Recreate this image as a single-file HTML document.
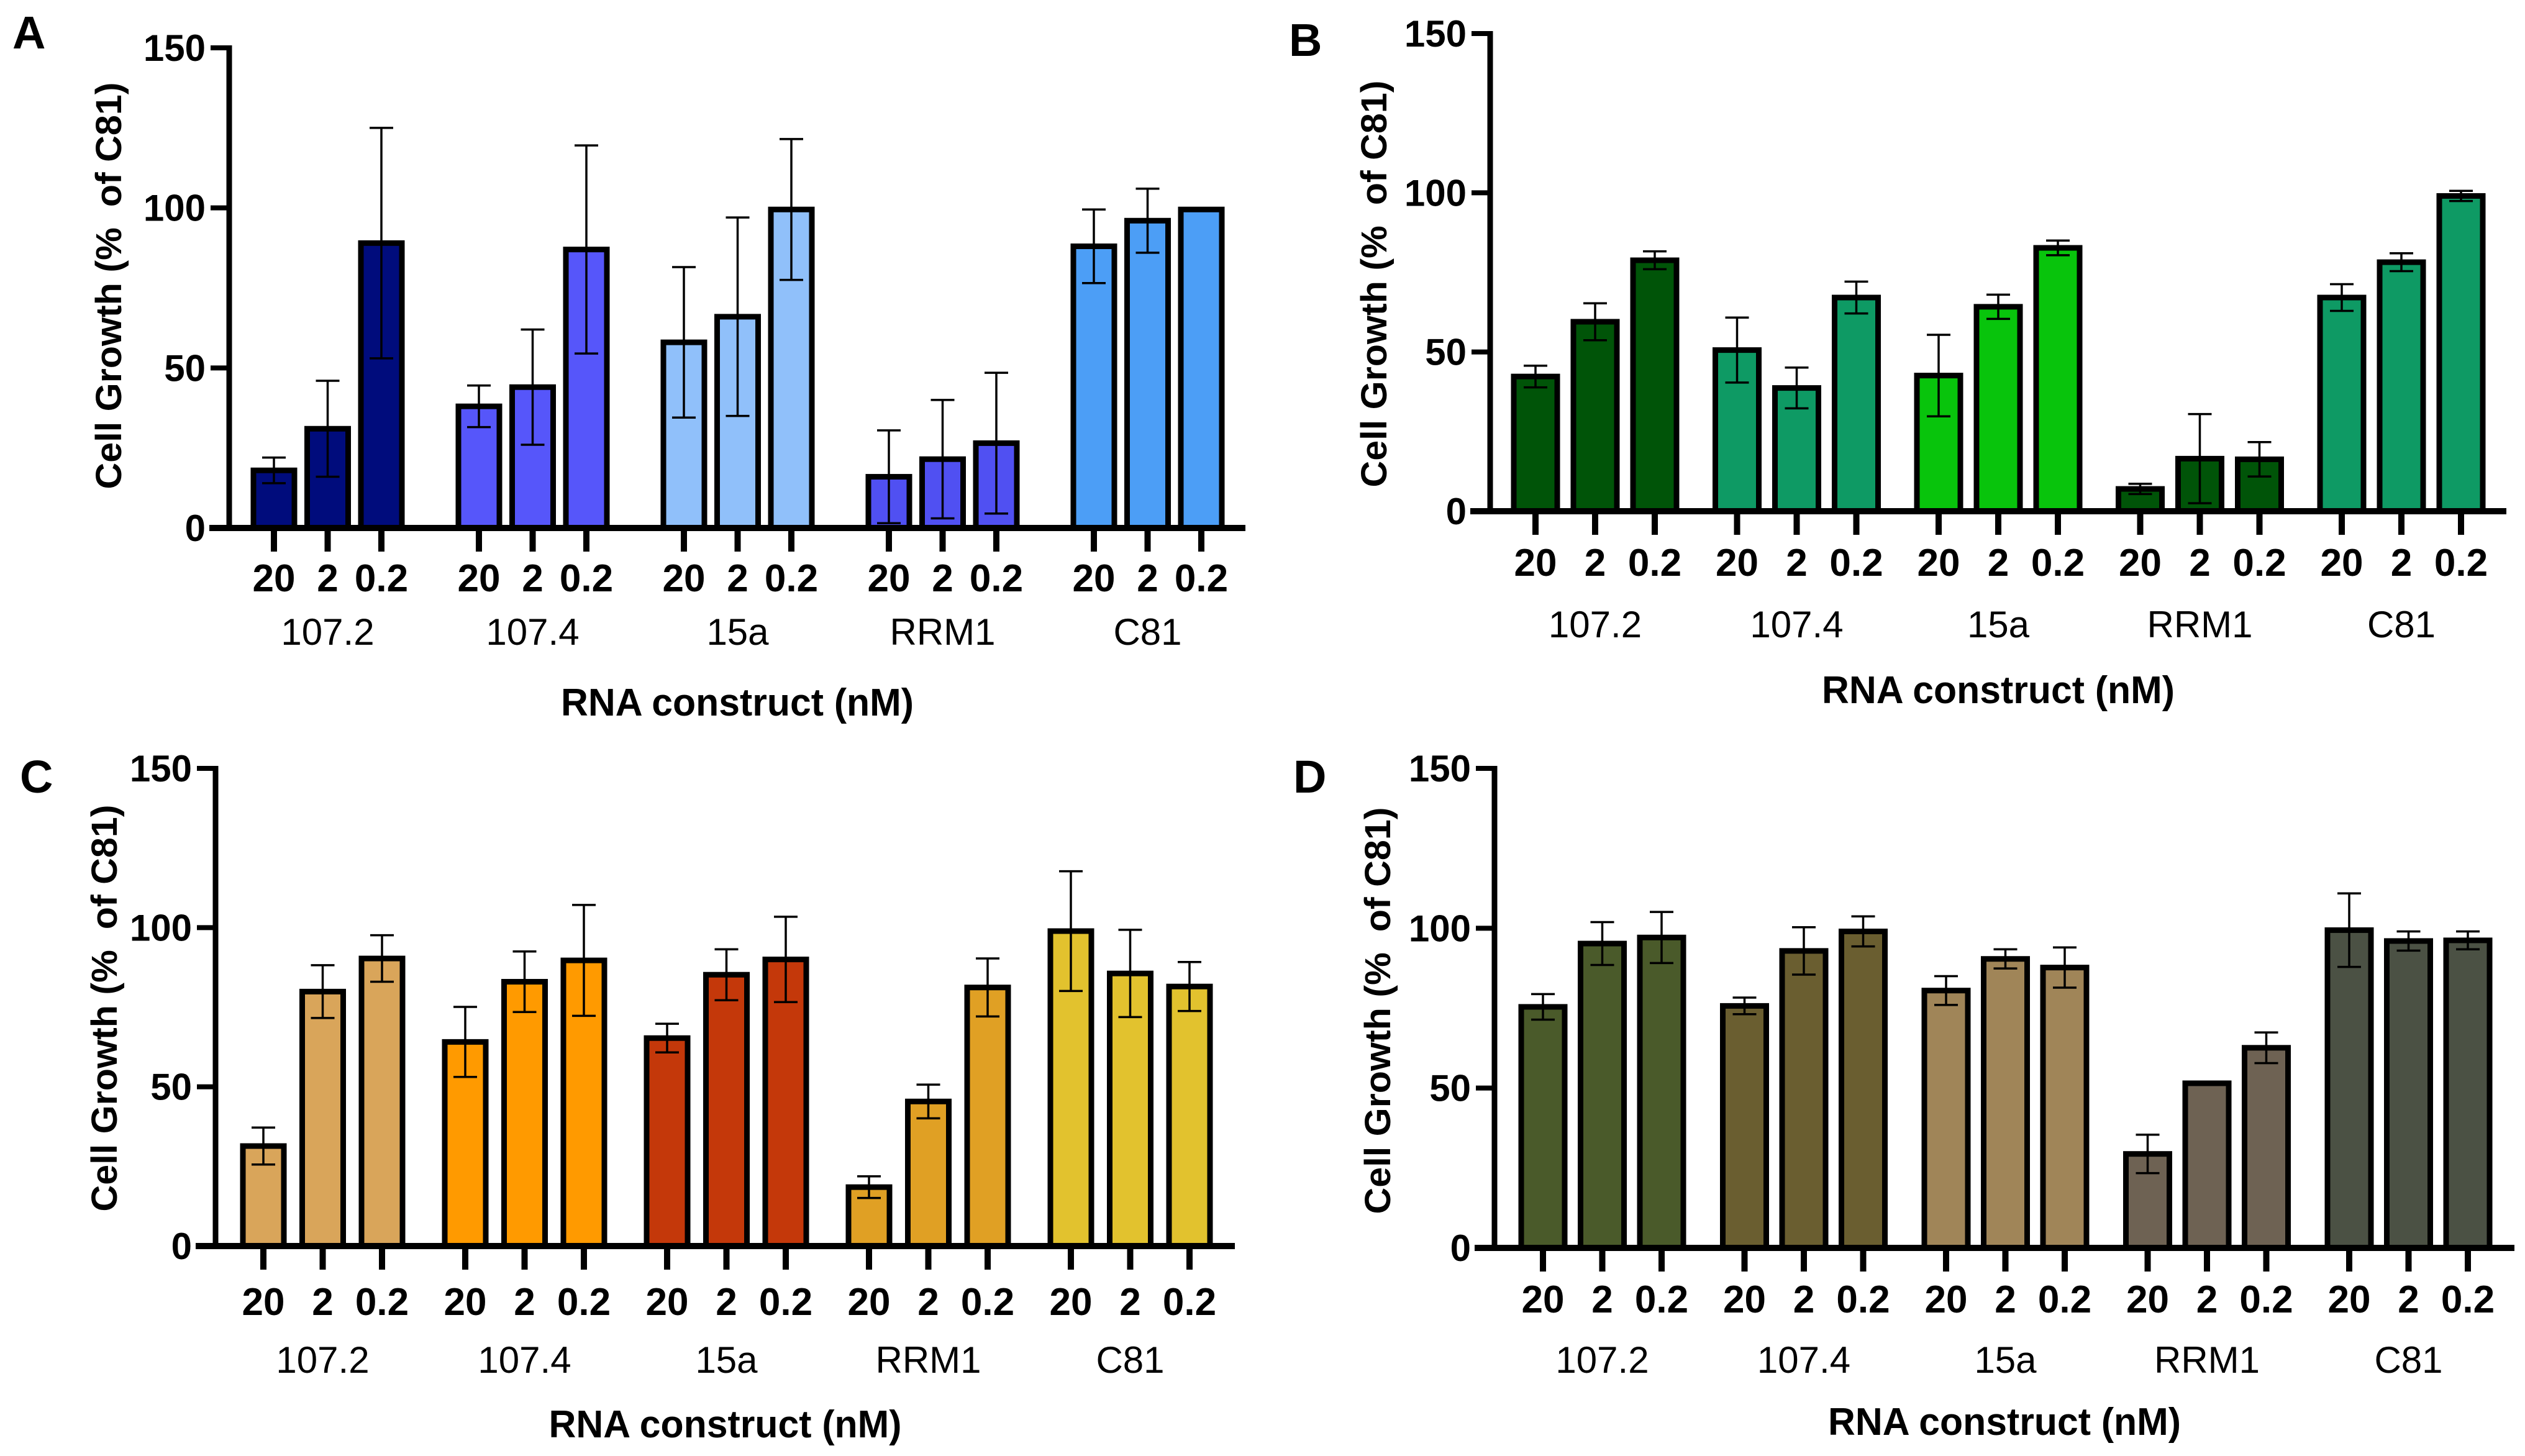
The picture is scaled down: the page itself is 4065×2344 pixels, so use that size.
<!DOCTYPE html>
<html><head><meta charset="utf-8"><style>
html,body{margin:0;padding:0;background:#fff;}
svg{display:block;}
text{font-family:"Liberation Sans",Arial,sans-serif;fill:#000;}
</style></head><body>
<svg id="fig" width="4065" height="2344" viewBox="0 0 4065 2344" xmlns="http://www.w3.org/2000/svg"></svg>
<script>
const groups = ["107.2","107.4","15a","RRM1","C81"];
const doses = ["20","2","0.2"];
const yTicks = [0,50,100,150];
const valuesA = [18,31,89, 38,44,87, 58,66,99.5, 16,21.5,26.5, 88,96,99.5];
const errorsA = [4,15,36, 6.5,18,32.5, 23.5,31,22, 14.5,18.5,22, 11.5,10,0];
const valuesB = [42.3,59.5,78.8, 50.6,38.7,67.1, 42.6,64.2,82.7, 7,16.5,16.3, 67.1,78.2,99];
const errorsB = [3.4,5.8,2.8, 10.2,6.4,5, 12.8,3.8,2.3, 1.6,14,5.4, 4.2,2.8,1.6];
const valuesC = [31.4,79.9,90.3, 64.1,83,89.7, 65.3,85.2,90, 18.5,45.4,81.2, 98.9,85.6,81.5];
const errorsC = [5.8,8.3,7.3, 11,9.5,17.4, 4.5,8,13.4, 3.4,5.3,9.1, 18.8,13.7,7.7];
const valuesD = [75.4,95.2,97.1, 75.7,92.9,99, 80.5,90.4,87.7, 29.4,51.5,62.6, 99.4,96,96.2];
const errorsD = [4,6.7,8, 2.6,7.4,4.7, 4.5,3,6.3, 6,0.5,4.8, 11.5,3,2.8];
const colorsA = ["#000c7c","#5656fa","#90c0fa","#5050f2","#4c9ef6"];
const colorsB = ["#005408","#0e9a64","#08c40c","#005408","#0e9a64"];
const colorsC = ["#d9a55a","#ff9a00","#c4380a","#e0a024","#e2c22e"];
const colorsD = ["#4a5a2a","#6a5e30","#a08558","#6e6253","#4b5144"];

const NS="http://www.w3.org/2000/svg";
const svg=document.getElementById('fig');
function mk(tag,attrs,parent){const e=document.createElementNS(NS,tag);for(const k in attrs)e.setAttribute(k,attrs[k]);(parent||svg).appendChild(e);return e;}

const panels=[
 {id:"a",letter:"A",lx:20,ly:78,ax:369,y0:850,ytop:77,b0:441,dw:86.5,gw:330,bw:66,xend:2005,tb:952,gb:1038,titleB:1152,ytx:175,yty:460,vals:valuesA,errs:errorsA,cols:colorsA},
 {id:"b",letter:"B",lx:2075,ly:90,ax:2399,y0:823,ytop:54,b0:2472,dw:96,gw:324.5,bw:70,xend:4035,tb:927,gb:1026,titleB:1132,ytx:2212,yty:457,vals:valuesB,errs:errorsB,cols:colorsB},
 {id:"c",letter:"C",lx:32,ly:1276,ax:347,y0:2006,ytop:1237,b0:424,dw:95.5,gw:325,bw:66,xend:1988,tb:2117,gb:2210,titleB:2314,ytx:168,yty:1623,vals:valuesC,errs:errorsC,cols:colorsC},
 {id:"d",letter:"D",lx:2082,ly:1276,ax:2406,y0:2009,ytop:1237,b0:2484,dw:95.5,gw:324.5,bw:70,xend:4048,tb:2113,gb:2210,titleB:2310,ytx:2218,yty:1627,vals:valuesD,errs:errorsD,cols:colorsD}
];

panels.forEach(p=>{
  const g=mk('g',{});
  
  
  const yScale=v=>p.y0-(v/150)*(p.y0-p.ytop);
  const xScale=i=>p.b0+Math.floor(i/3)*p.gw+(i%3)*p.dw;
  const L=mk('text',{x:p.lx,y:p.ly,'font-size':74,'font-weight':'bold'},g);L.textContent=p.letter;
  
  
  p.vals.forEach((v,i)=>{
    const cx=xScale(i), top=yScale(v);
    const r=mk('rect',{x:cx-p.bw/2,y:top,width:p.bw,height:p.y0-top,fill:p.cols[Math.floor(i/3)],stroke:'#000','stroke-width':9},g);
    
    
  });
  p.vals.forEach((v,i)=>{
    const e=p.errs[i]; if(!e) return;
    const cx=xScale(i), y1=yScale(v+e), y2=yScale(v-e);
    const eg=mk('g',{stroke:'#000','stroke-width':3.5,fill:'none'},g);
    
    
    mk('line',{x1:cx,x2:cx,y1:y1,y2:y2},eg);
    mk('line',{x1:cx-19,x2:cx+19,y1:y1,y2:y1},eg);
    mk('line',{x1:cx-19,x2:cx+19,y1:y2,y2:y2},eg);
  });
  const ya=mk('line',{x1:p.ax,x2:p.ax,y1:p.ytop-4,y2:p.y0+5,stroke:'#000','stroke-width':9},g);
  
  
  const xa=mk('line',{x1:p.ax-32,x2:p.xend,y1:p.y0,y2:p.y0,stroke:'#000','stroke-width':10},g);
  
  
  yTicks.forEach(t=>{
    const y=yScale(t);
    mk('line',{x1:p.ax-30,x2:p.ax,y1:y,y2:y,stroke:'#000','stroke-width':8},g);
    const tl=mk('text',{x:p.ax-38,y:y+21,'font-size':60,'font-weight':'bold','text-anchor':'end'},g);
    tl.textContent=t;
    
    
  });
  p.vals.forEach((v,i)=>{
    const cx=xScale(i);
    mk('line',{x1:cx,x2:cx,y1:p.y0,y2:p.y0+38,stroke:'#000','stroke-width':10},g);
    const tl=mk('text',{x:cx,y:p.tb,'font-size':62,'font-weight':'bold','text-anchor':'middle'},g);
    tl.textContent=doses[i%3];
    
    
  });
  groups.forEach((gname,k)=>{
    const t=mk('text',{x:xScale(k*3+1),y:p.gb,'font-size':60,'text-anchor':'middle'},g);
    t.textContent=gname;
    
    
  });
  const xt=mk('text',{x:(p.ax+p.xend)/2,y:p.titleB,'font-size':62,'font-weight':'bold','text-anchor':'middle',textLength:568,lengthAdjust:'spacingAndGlyphs'},g);
  xt.textContent="RNA construct (nM)";
  
  
  const yt=mk('text',{x:0,y:0,'font-size':58,'font-weight':'bold','text-anchor':'middle',textLength:655,lengthAdjust:'spacingAndGlyphs',transform:`translate(${p.ytx+20},${p.yty}) rotate(-90)`},g);
  yt.textContent="Cell Growth (%\u00a0\u00a0of C81)";
  
  
});
</script>
</body></html>
